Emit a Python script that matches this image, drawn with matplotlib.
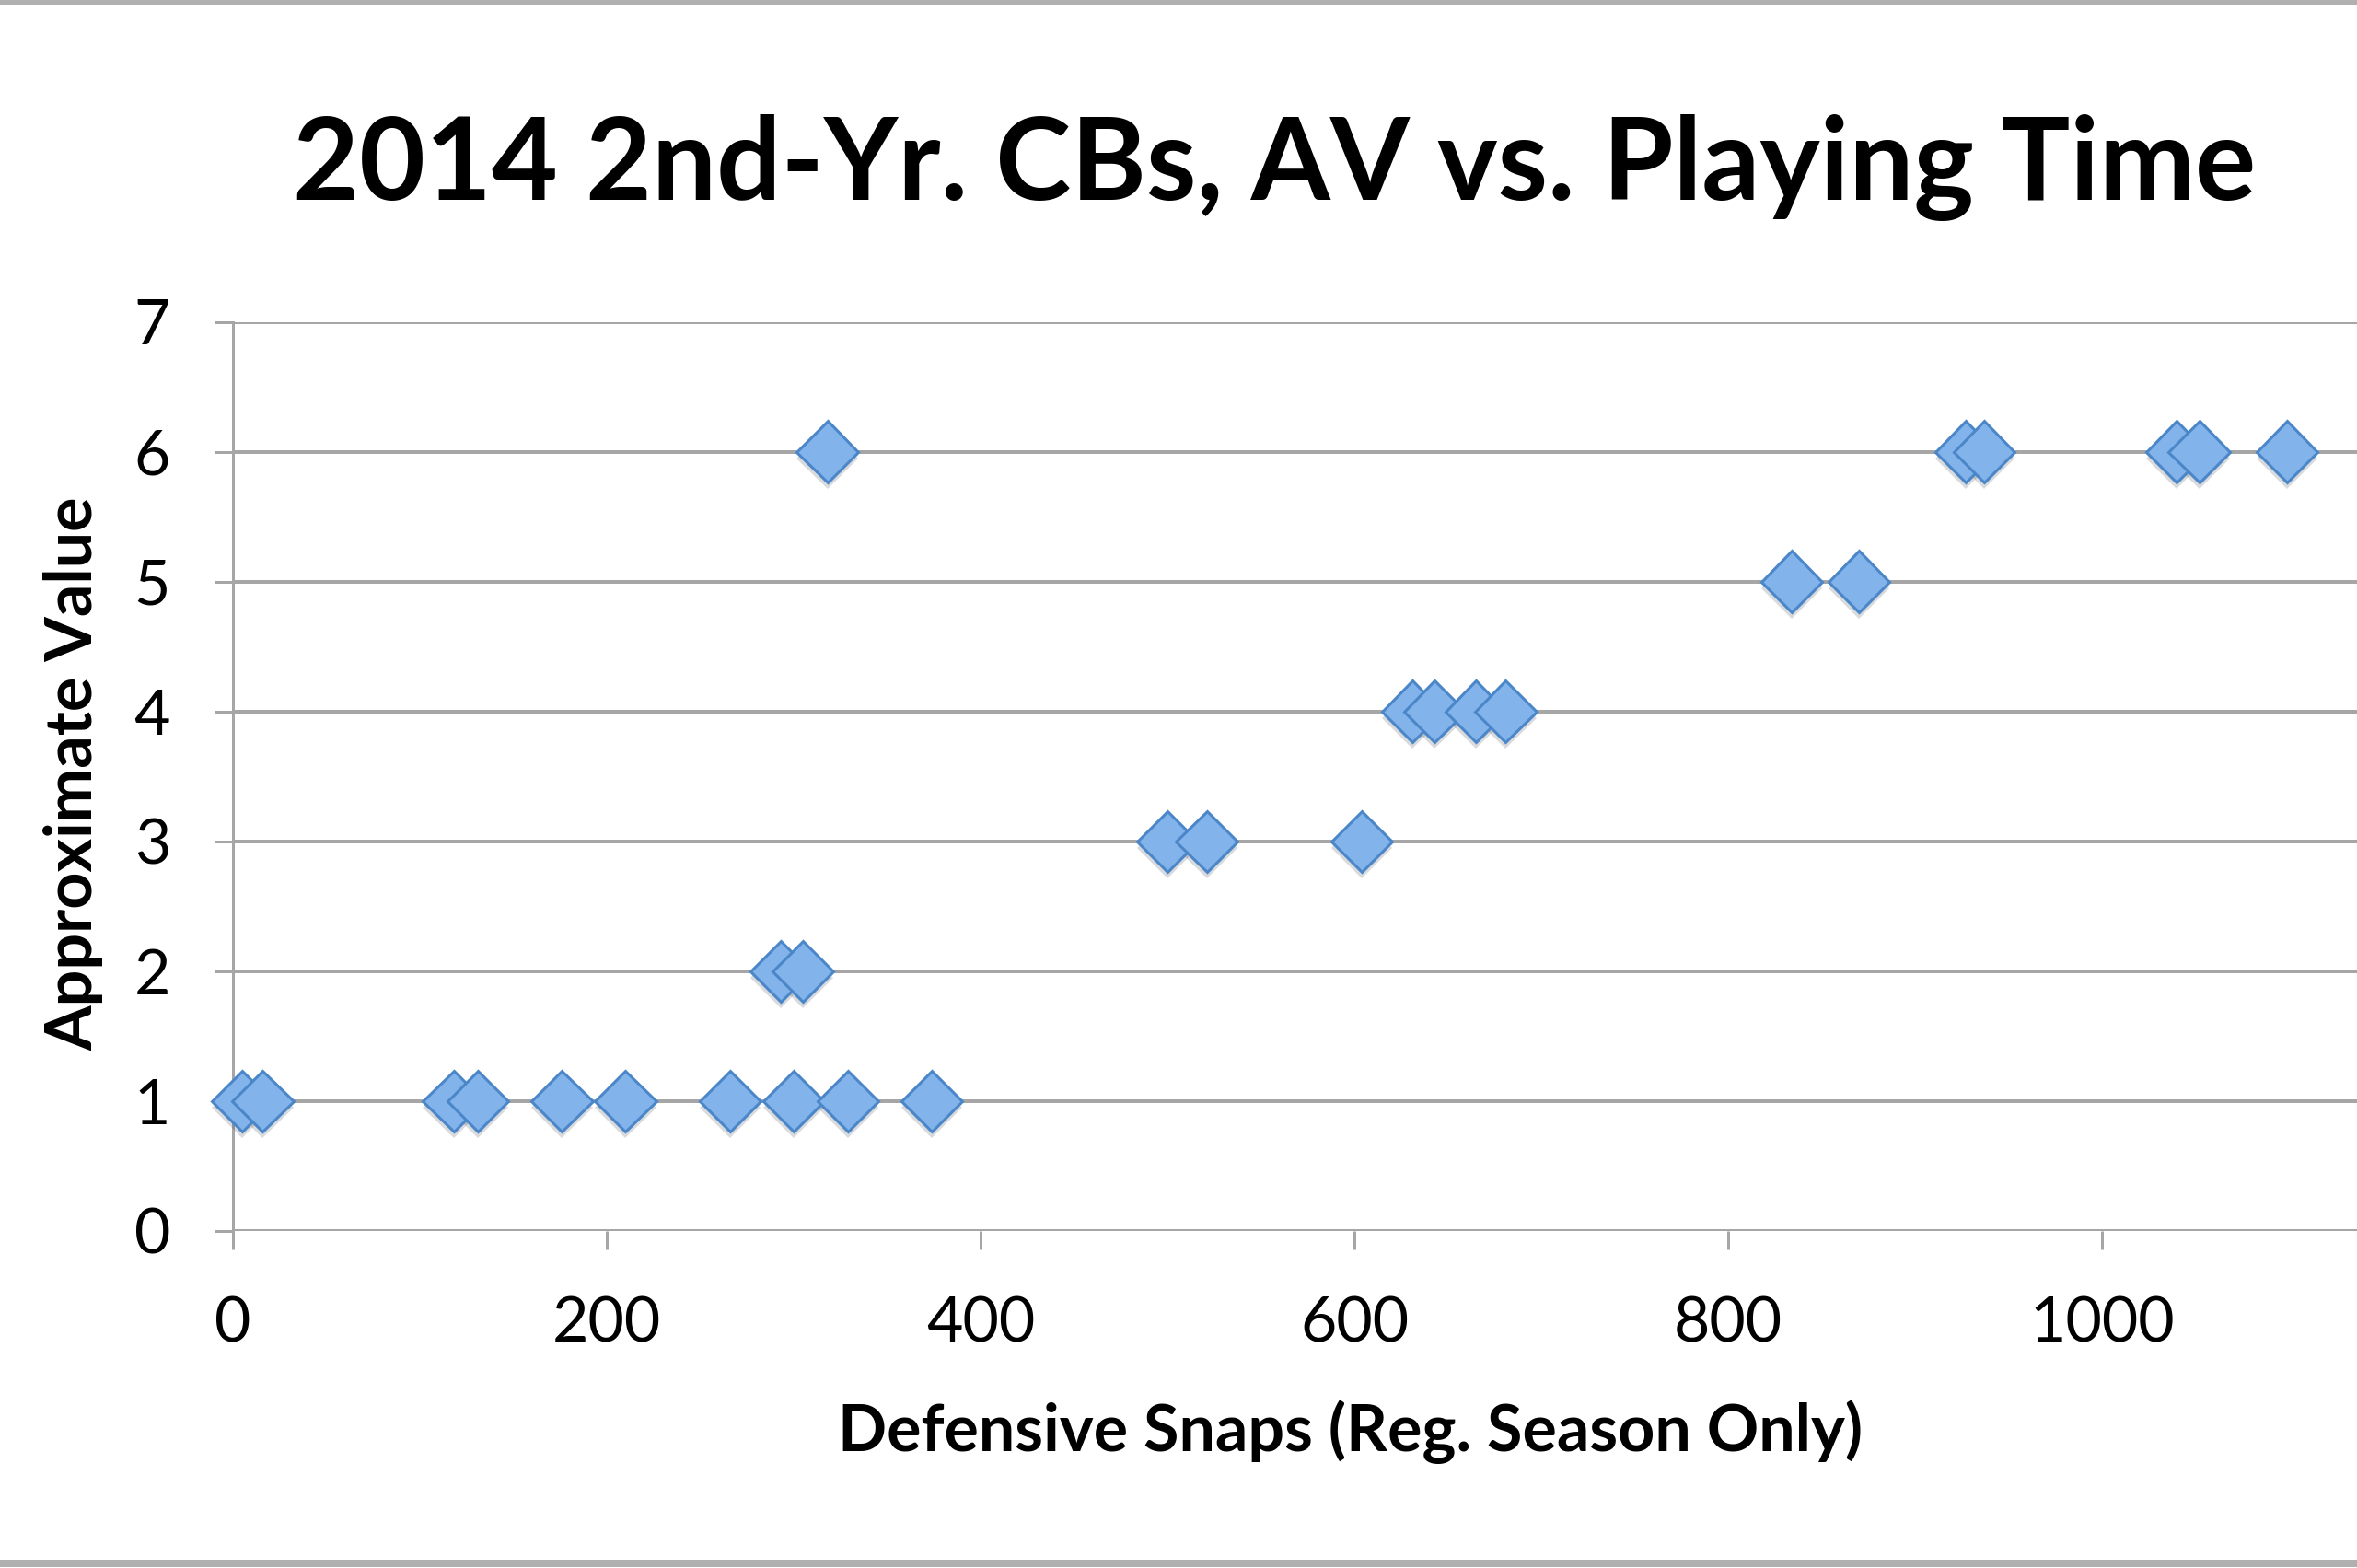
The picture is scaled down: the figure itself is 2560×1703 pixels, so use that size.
import numpy as np
import matplotlib.pyplot as plt
from matplotlib import patheffects
from matplotlib.lines import Line2D


# data: defensive snaps vs approximate value
snaps_av1 = [5, 16, 118, 131, 176, 210, 266, 300, 329, 374]
snaps_av2 = [293, 305]
snaps_av3 = [500, 521, 604]
snaps_av4 = [631, 643, 665, 681]
snaps_av5 = [834, 870]
snaps_av6 = [318, 927, 937, 1040, 1052, 1099]

snaps = np.array(snaps_av1 + snaps_av2 + snaps_av3 + snaps_av4 + snaps_av5 + snaps_av6)
av = np.array([1] * len(snaps_av1) + [2] * len(snaps_av2) + [3] * len(snaps_av3)
              + [4] * len(snaps_av4) + [5] * len(snaps_av5) + [6] * len(snaps_av6))

x_ticks = [0, 200, 400, 600, 800, 1000]
y_ticks = [0, 1, 2, 3, 4, 5, 6, 7]

title = "2014 2nd-Yr. CBs, AV vs. Playing Time"
x_label = "Defensive Snaps (Reg. Season Only)"
y_label = "Approximate Value"

# styles
grid_col = "#a6a6a6"
face_col = "#82b3ea"
edge_col = "#4a86c8"

plt.rcParams['font.family'] = ['Lato', 'DejaVu Sans']

# dpi 72 so that points == pixels
fig = plt.figure(figsize=(2560 / 72, 1703 / 72), dpi=72)
# the plot area runs past the right edge (x axis goes to 1200, cropped like the original)
ax = fig.add_axes([253 / 2560, 1 - 1337 / 1703, (2689 - 253) / 2560, (1337 - 349.5) / 1703])

ax.set_xlim(0, 1200)
ax.set_ylim(0, 7)
ax.set_xticks(x_ticks)
ax.set_yticks(y_ticks)
ax.grid(axis='y', color=grid_col, linewidth=4)
ax.set_axisbelow(True)

for side in ['top', 'right', 'bottom']:
    ax.spines[side].set_visible(False)
ax.spines['left'].set_color(grid_col)
ax.spines['left'].set_linewidth(3)

ax.tick_params(axis='both', direction='out', length=20, width=3, color=grid_col,
               labelsize=68, labelcolor='black')
ax.tick_params(axis='y', pad=48)
ax.tick_params(axis='x', pad=50)

ax.plot(snaps, av, linestyle='none', marker='D', markersize=47,
        markerfacecolor=face_col, markeredgecolor=edge_col, markeredgewidth=3,
        clip_on=False, zorder=5,
        path_effects=[patheffects.SimplePatchShadow(offset=(0, -7), alpha=0.18),
                      patheffects.Normal()])

fig.text(1384 / 2560, 1 - 217 / 1703, title, ha='center', va='baseline',
         fontsize=124, fontweight='bold')
fig.text(1467 / 2560, 1 - 1576 / 1703, x_label, ha='center', va='baseline',
         fontsize=70, fontweight='bold')
fig.text(80 / 2560, 1 - 840 / 1703, y_label, ha='center', va='center',
         rotation=90, fontsize=70, fontweight='bold')

# grey frame lines at top and bottom of the picture
fig.add_artist(Line2D([0, 1], [1 - 2 / 1703, 1 - 2 / 1703], color="#b0b0b0", linewidth=5))
fig.add_artist(Line2D([0, 1], [5 / 1703, 5 / 1703], color="#b0b0b0", linewidth=8))

fig.savefig("out.png", dpi=72)
